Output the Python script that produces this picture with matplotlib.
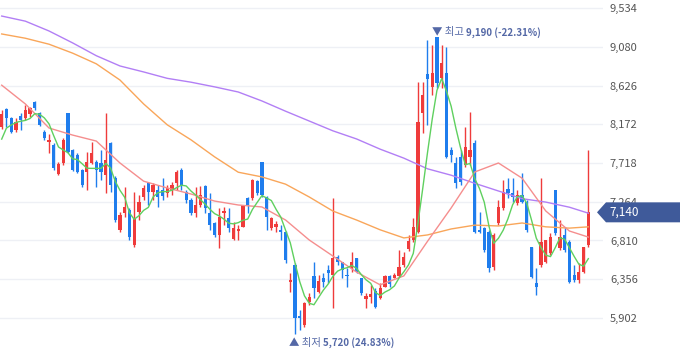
import numpy as np
import pandas as pd
import matplotlib
matplotlib.use('Agg')
import matplotlib.pyplot as plt
from matplotlib.patches import Polygon
from matplotlib.transforms import IdentityTransform

plt.rcParams['font.family'] = ['Noto Sans CJK KR', 'DejaVu Sans']

# daily candles (price, KRW)
opens = [8140, 8350, 8245, 8105, 8270, 8245, 8290, 8430, 8305, 8080,
         7965, 7930, 7590, 7720, 8305, 7870, 7810, 7635, 7615, 7720,
         7730, 7720, 7575, 7950, 7540, 6935, 7130, 7165, 6755, 7145,
         7320, 7485, 7380, 7400, 7400, 7365, 7400, 7485, 7635, 7380,
         7285, 7130, 7225, 7450, 7130, 7015, 6875, 7130, 7075, 6830,
         6920, 6970, 7310, 7310, 7510, 7730, 7320, 6955, 6970, 6935,
         6910, 6325, 6520, 5925, 5820, 6090, 6395, 6205, 6370, 6465,
         6405, 6615, 6560, 6405, 6490, 6605, 6370, 6125, 6150, 6220,
         6135, 6265, 6395, 6370, 6395, 6525, 6710, 6815, 6910, 8305,
         8760, 8610, 9190, 8715, 8775, 7870, 7720, 7790, 7695, 7790,
         7950, 6935, 6955, 6910, 6500, 7015, 7190, 7415, 7365, 7250,
         7345, 7260, 6735, 6310, 6525, 6560, 6665, 7400, 6720, 6875,
         6790, 6405, 6345, 6440, 6755]
highs = [8340, 8360, 8260, 8245, 8305, 8400, 8375, 8445, 8315, 8105,
         8060, 7950, 7730, 8010, 8305, 7880, 7835, 7650, 7845, 7965,
         7755, 7870, 8305, 7965, 7565, 7145, 7435, 7190, 7380, 7345,
         7460, 7495, 7485, 7460, 7540, 7460, 7495, 7635, 7660, 7400,
         7310, 7435, 7450, 7460, 7365, 7025, 7190, 7205, 7190, 7025,
         6990, 7225, 7320, 7530, 7520, 7730, 7330, 7085, 7040, 6990,
         6920, 6430, 6545, 5995, 6090, 6195, 6560, 6405, 6430, 6525,
         7310, 6640, 6560, 6490, 6675, 6605, 6370, 6195, 6290, 6255,
         6310, 6405, 6405, 6430, 6700, 6675, 6875, 7075, 8670, 8670,
         9160, 9100, 9190, 9100, 9080, 7905, 7790, 7870, 8140, 8315,
         7990, 7145, 6970, 6935, 6900, 7285, 7520, 7540, 7540, 7400,
         7600, 7285, 6735, 6490, 7540, 6815, 6900, 7400, 7050, 6970,
         6815, 6525, 6545, 6735, 7870]
lows = [8120, 8140, 8070, 8080, 8105, 8220, 8255, 8340, 8150, 7990,
        7835, 7635, 7575, 7695, 7835, 7625, 7600, 7435, 7400, 7705,
        7435, 7520, 7365, 7380, 7025, 6910, 7085, 6815, 6735, 7050,
        7285, 7225, 7285, 7205, 7285, 7320, 7345, 7400, 7400, 7250,
        7110, 7085, 7205, 7130, 6935, 6850, 6720, 6990, 6910, 6815,
        6815, 6970, 7130, 7285, 7345, 7320, 6935, 6935, 6910, 6815,
        6545, 6205, 5720, 5760, 5795, 6055, 6135, 6195, 6265, 6310,
        6020, 6525, 6370, 6265, 6440, 6430, 6170, 6020, 6080, 6020,
        6125, 6265, 6265, 6370, 6380, 6500, 6690, 6790, 6900, 8070,
        8165, 8515, 8595, 8595, 7775, 7730, 7425, 7460, 7670, 7695,
        6900, 6900, 6680, 6440, 6465, 6990, 7165, 7310, 7260, 7225,
        7250, 6910, 6370, 6170, 6500, 6545, 6640, 6875, 6700, 6675,
        6310, 6325, 6310, 6430, 6735]
closes = [8290, 8245, 8080, 8200, 8220, 8340, 8360, 8360, 8165, 8010,
          7990, 7660, 7705, 7990, 7845, 7635, 7615, 7460, 7730, 7835,
          7635, 7615, 7755, 7460, 7050, 7110, 7205, 6850, 7075, 7260,
          7425, 7380, 7460, 7320, 7330, 7425, 7460, 7615, 7460, 7285,
          7130, 7225, 7345, 7190, 6990, 6875, 7085, 7155, 6955, 6955,
          6945, 7225, 7225, 7520, 7365, 7345, 7085, 7075, 7005, 6910,
          6580, 6345, 5900, 5900, 6080, 6150, 6255, 6335, 6325, 6430,
          6605, 6560, 6465, 6395, 6560, 6440, 6195, 6160, 6185, 6030,
          6255, 6395, 6300, 6405, 6500, 6615, 6805, 6970, 8200, 8515,
          8700, 8775, 8655, 8890, 7790, 7810, 7485, 7495, 7905, 7870,
          6910, 6910, 6700, 6490, 6875, 7205, 7380, 7365, 7320, 7345,
          7260, 6935, 6380, 6265, 6795, 6815, 6850, 6900, 6850, 6700,
          6325, 6345, 6440, 6735, 7140]
prev_closes = [7600, 7900, 8050, 8150]  # closes just before the window (for the 5-day MA)

# longer moving averages, read every 5th candle (plus the last one)
ma_step = 5
ma20 = [8630, 8410, 8128, 8045, 7975, 7718, 7505, 7425, 7355, 7272,
        7226, 7203, 7050, 6816, 6628, 6440, 6290, 6395, 6800, 7191,
        7613, 7718, 7540, 7156, 6921, 6850]
ma60 = [9230, 9180, 9110, 9005, 8880, 8690, 8410, 8165, 7990, 7790,
        7610, 7555, 7470, 7320, 7155, 7050, 6935, 6840, 6875, 6945,
        6990, 6980, 7015, 6970, 6955, 6970]
ma120 = [9440, 9380, 9265, 9125, 8975, 8855, 8785, 8710, 8665, 8610,
         8550, 8445, 8325, 8210, 8095, 8000, 7880, 7775, 7650, 7575,
         7480, 7390, 7300, 7260, 7200, 7130]

yticks = [5902, 6356, 6810, 7264, 7718, 8172, 8626, 9080, 9534]

RED = '#ef3b3b'
BLUE = '#1f7ded'

n = len(closes)
idx = np.arange(n)
o = np.array(opens)
c = np.array(closes)
ma_x = list(range(0, n - 1, ma_step)) + [n - 1]
ma5 = pd.Series(prev_closes + closes).rolling(5).mean().iloc[len(prev_closes):].values

fig = plt.figure(figsize=(6.8, 3.58), dpi=100)
ax = fig.add_axes([0, 0, 603 / 680, 1])
ax.set_xlim(-0.36, 127.1)
ax.set_ylim(5433, 9628)

colors = np.where(c >= o, RED, BLUE)
ax.vlines(idx, lows, highs, colors=colors, lw=1, zorder=2)
ax.bar(idx, np.maximum(np.abs(c - o), 15), bottom=np.minimum(o, c),
       width=0.68, color=colors, lw=0, zorder=3)

ax.plot(ma_x, ma120, color='#b27ff5', lw=1, zorder=4)
ax.plot(ma_x, ma60, color='#f9a65a', lw=1, zorder=4)
ax.plot(ma_x, ma20, color='#f58e8e', lw=1, zorder=4)
ax.plot(idx, ma5, color='#5fd05f', lw=1, zorder=5)

# axes look
ax.set_yticks(yticks)
ax.set_yticklabels([f'{v:,}' for v in yticks])
ax.yaxis.tick_right()
ax.tick_params(axis='y', length=0, pad=5, labelsize=8, labelcolor='#555555')
ax.tick_params(axis='x', bottom=False, labelbottom=False)
ax.yaxis.grid(True, color='#eef0f5', lw=1)
ax.set_axisbelow(True)
for s in ax.spines.values():
    s.set_visible(False)

# high / low markers
LBL = '#5468a6'
hi = int(np.argmax(highs))
lo = int(np.argmin(lows))
t1 = ax.annotate('▼ 최고', xy=(hi, highs[hi]), xytext=(-5, 5), textcoords='offset pixels',
                 ha='left', va='center', color=LBL, fontsize=7.5, zorder=6)
ax.annotate(f'{highs[hi]:,} (-22.31%)', xy=(1, 0.5), xycoords=t1, xytext=(2, 0),
            textcoords='offset pixels', ha='left', va='center',
            color=LBL, fontsize=7, fontweight='bold', zorder=6)
t2 = ax.annotate('▲ 최저', xy=(lo, lows[lo]), xytext=(-6, -9), textcoords='offset pixels',
                 ha='left', va='center', color=LBL, fontsize=7.5, zorder=6)
ax.annotate(f'{lows[lo]:,} (24.83%)', xy=(1, 0.5), xycoords=t2, xytext=(2, 0),
            textcoords='offset pixels', ha='left', va='center',
            color=LBL, fontsize=7, fontweight='bold', zorder=6)

# current price tag
yp = ax.transData.transform((0, closes[-1]))[1]
tag = Polygon([[597, yp], [606, yp + 10], [680, yp + 10], [680, yp - 10], [606, yp - 10]],
              closed=True, transform=IdentityTransform(), fc='#3f5a9a', ec='none', zorder=10)
fig.add_artist(tag)
fig.text(609, yp, f'{closes[-1]:,}', transform=IdentityTransform(), color='white',
         ha='left', va='center', fontsize=8.5, zorder=11)

fig.savefig('out.png', dpi=100)
